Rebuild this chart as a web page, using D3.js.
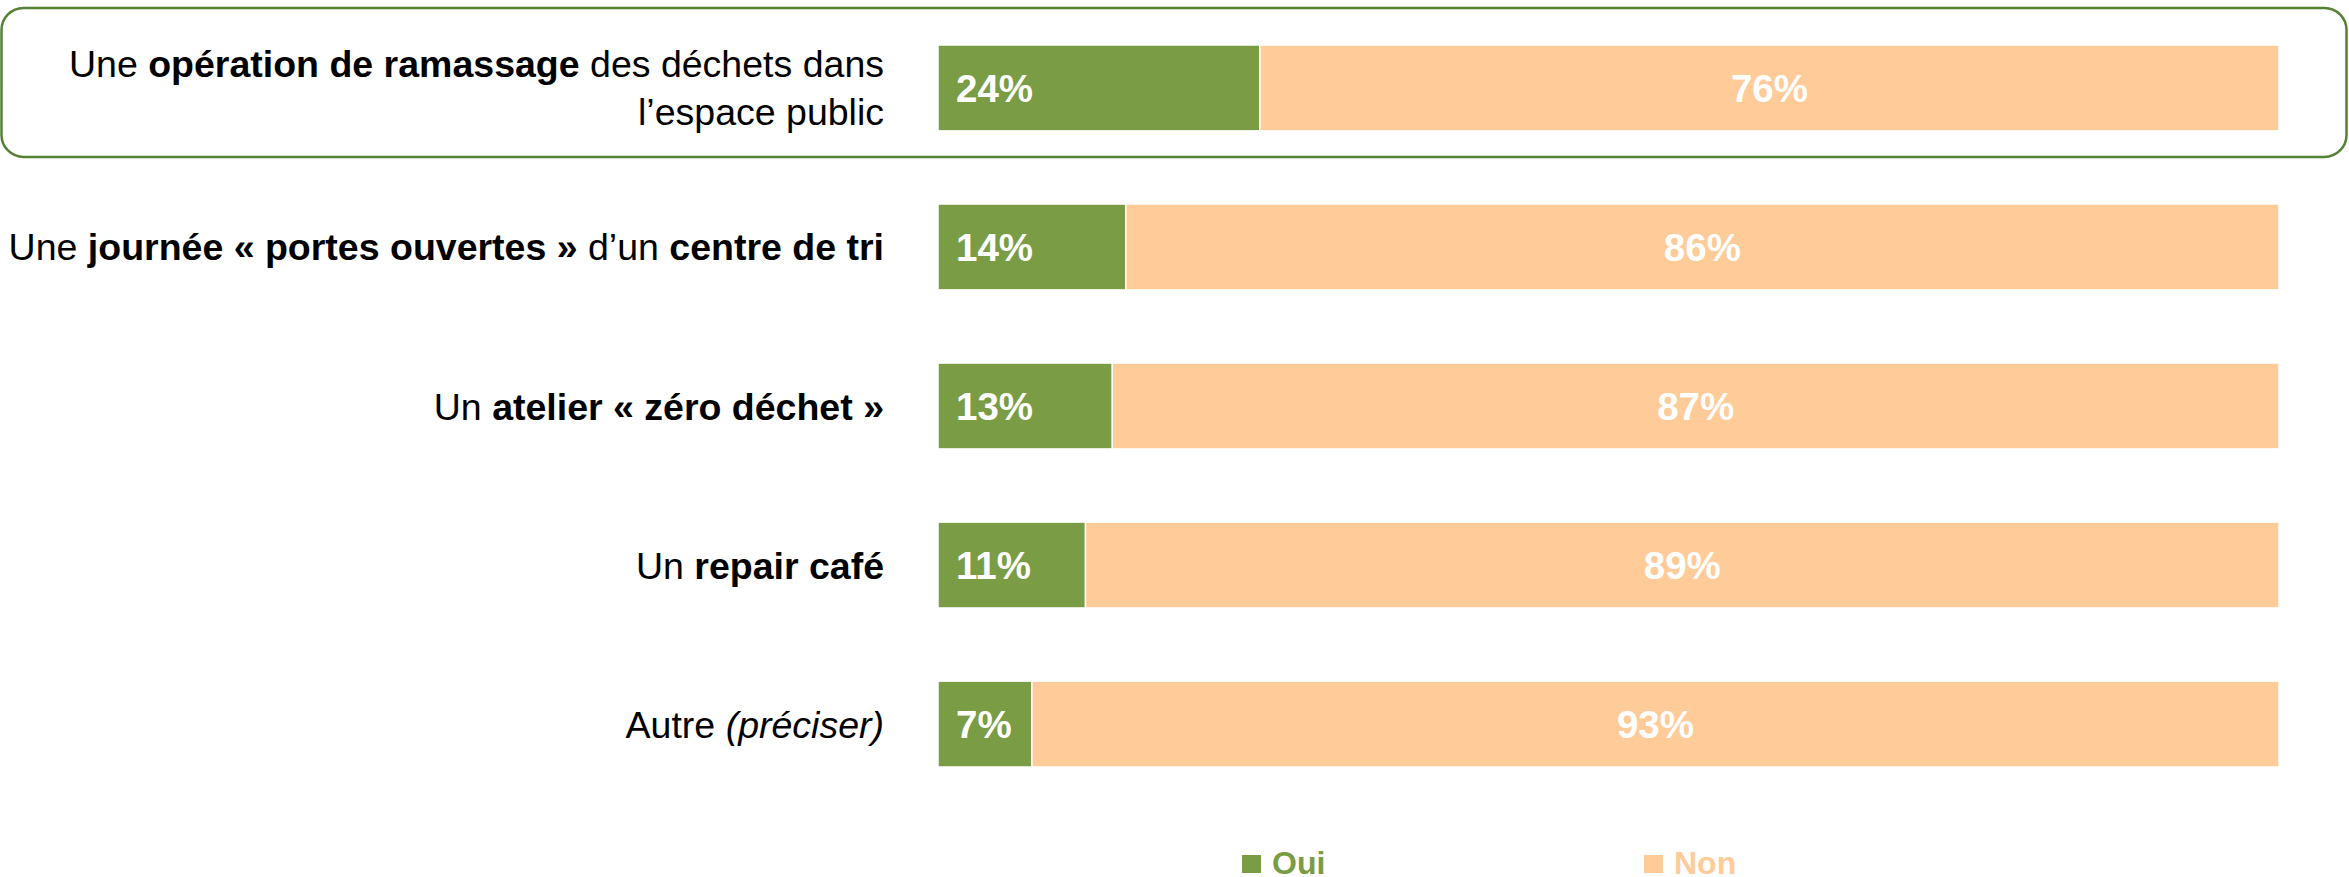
<!DOCTYPE html>
<html lang="fr">
<head>
<meta charset="utf-8">
<script src="https://cdn.jsdelivr.net/npm/d3@7/dist/d3.min.js"></script>
<style>
  html, body { margin: 0; padding: 0; background: #ffffff; }
  svg { display: block; }
</style>
</head>
<body>
<svg id="chart" width="2349" height="877"></svg>
<script>
// Activity labels, each split into styled runs (regular / bold / italic), one array per line
const categories = [
  [[["Une ", "n"], ["opération de ramassage", "b"], [" des déchets dans", "n"]], [["l’espace public", "n"]]],
  [[["Une ", "n"], ["journée « portes ouvertes »", "b"], [" d’un ", "n"], ["centre de tri", "b"]]],
  [[["Un ", "n"], ["atelier « zéro déchet »", "b"]]],
  [[["Un ", "n"], ["repair café", "b"]]],
  [[["Autre ", "n"], ["(préciser)", "i"]]]
];
const ouiValues = [24, 14, 13, 11, 7];
const nonValues = [76, 86, 87, 89, 93];
const seriesNames = ["Oui", "Non"];

const colors = { Oui: "#7A9C45", Non: "#FFCB99" };
const FONT = "'Liberation Sans', Arial, sans-serif";

const svg = d3.select("#chart");

const x = d3.scaleLinear().domain([0, 100]).range([938, 2279]);
const y = d3.scaleBand()
  .domain(d3.range(categories.length))
  .range([45, 767])
  .paddingInner(0.46)
  .paddingOuter(0);

const rows = categories.map((c, i) => ({ i, label: c, oui: ouiValues[i], non: nonValues[i] }));

// Rounded frame highlighting the first activity
svg.append("rect")
  .attr("x", 1.5)
  .attr("y", y(0) - 37)
  .attr("width", 2345)
  .attr("height", y.bandwidth() + 63)
  .attr("rx", 22)
  .attr("fill", "none")
  .attr("stroke", "#548235")
  .attr("stroke-width", 2.5);

const row = svg.selectAll("g.row").data(rows).join("g").attr("class", "row");

// Oui segment
row.append("rect")
  .attr("x", x(0))
  .attr("y", d => y(d.i))
  .attr("width", d => x(d.oui) - x(0))
  .attr("height", y.bandwidth())
  .attr("fill", colors.Oui)
  .attr("stroke", "#ffffff")
  .attr("stroke-width", 1.5);

// Non segment
row.append("rect")
  .attr("x", d => x(d.oui))
  .attr("y", d => y(d.i))
  .attr("width", d => x(d.oui + d.non) - x(d.oui))
  .attr("height", y.bandwidth())
  .attr("fill", colors.Non)
  .attr("stroke", "#ffffff")
  .attr("stroke-width", 1.5);

// Value labels
row.append("text")
  .attr("x", x(0) + 18)
  .attr("y", d => y(d.i) + y.bandwidth() / 2)
  .attr("dy", "0.36em")
  .attr("font-family", FONT)
  .attr("font-weight", "bold")
  .attr("font-size", 38.5)
  .attr("fill", "#ffffff")
  .text(d => d.oui + "%");

row.append("text")
  .attr("x", d => (x(d.oui) + x(d.oui + d.non)) / 2)
  .attr("y", d => y(d.i) + y.bandwidth() / 2)
  .attr("dy", "0.36em")
  .attr("text-anchor", "middle")
  .attr("font-family", FONT)
  .attr("font-weight", "bold")
  .attr("font-size", 38.5)
  .attr("fill", "#ffffff")
  .text(d => d.non + "%");

// Category labels, right-aligned left of the bars
const lineGap = 48;
row.each(function (d) {
  const g = d3.select(this);
  const n = d.label.length;
  const cy = y(d.i) + y.bandwidth() / 2;
  d.label.forEach((runs, li) => {
    const t = g.append("text")
      .attr("x", 884)
      .attr("y", cy + (li - (n - 1) / 2) * lineGap)
      .attr("dy", "0.36em")
      .attr("text-anchor", "end")
      .attr("font-family", FONT)
      .attr("font-size", 37.5)
      .attr("fill", "#000000");
    runs.forEach(([txt, st]) => {
      t.append("tspan")
        .attr("font-weight", st === "b" ? "bold" : "normal")
        .attr("font-style", st === "i" ? "italic" : "normal")
        .text(txt);
    });
  });
});

// Legend
const legendX = d3.scaleOrdinal().domain(seriesNames).range([1242, 1644]);
const legend = svg.selectAll("g.legend").data(seriesNames).join("g")
  .attr("class", "legend")
  .attr("transform", d => `translate(${legendX(d)},0)`);
legend.append("rect")
  .attr("x", 0).attr("y", 855)
  .attr("width", 19).attr("height", 18)
  .attr("fill", d => colors[d]);
legend.append("text")
  .attr("x", 30).attr("y", 874)
  .attr("font-family", FONT)
  .attr("font-weight", "bold")
  .attr("font-size", 32)
  .attr("fill", d => colors[d])
  .text(d => d);
</script>
</body>
</html>
